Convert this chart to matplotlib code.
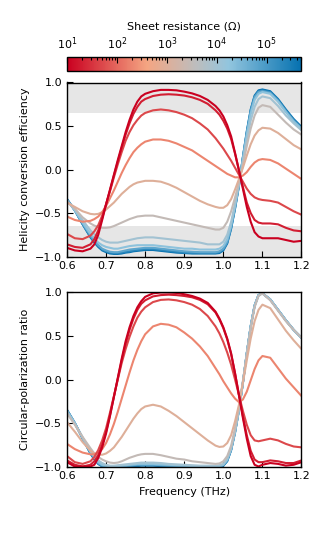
import matplotlib
matplotlib.use("Agg")
import matplotlib.pyplot as plt
from matplotlib.colors import LinearSegmentedColormap, LogNorm
from matplotlib.cm import ScalarMappable

# frequency samples (THz), denser where the curves switch
freq = [0.60, 0.62, 0.64, 0.66,
        0.67, 0.68, 0.69, 0.70, 0.71, 0.72, 0.73, 0.74, 0.75, 0.76, 0.77, 0.78, 0.79, 0.80,
        0.82, 0.84, 0.86, 0.88, 0.90, 0.92, 0.94, 0.96, 0.98,
        0.99, 1.00, 1.01, 1.02, 1.03, 1.04, 1.05, 1.06, 1.07, 1.08, 1.09, 1.10,
        1.12, 1.14, 1.16, 1.18, 1.20]

# sheet resistance of each curve (ohm)
resistance = [10, 20, 50, 200, 1000, 3000, 1e4, 2e4, 6e4, 2e5, 5e5]

# helicity conversion efficiency (top panel)
hce_r10 = [-0.90, -0.93, -0.94, -0.91,
           -0.86, -0.75, -0.58, -0.40, -0.23, -0.06, 0.11, 0.27, 0.43, 0.57, 0.69, 0.78, 0.84, 0.87,
           0.90, 0.915, 0.915, 0.91, 0.895, 0.875, 0.845, 0.80, 0.73,
           0.68, 0.61, 0.51, 0.38, 0.19, -0.01, -0.22, -0.43, -0.60, -0.72, -0.77, -0.79,
           -0.79, -0.79, -0.81, -0.83, -0.82]
hce_r20 = [-0.86, -0.89, -0.90, -0.86,
           -0.80, -0.70, -0.56, -0.40, -0.24, -0.07, 0.09, 0.25, 0.40, 0.53, 0.64, 0.72, 0.78, 0.81,
           0.845, 0.86, 0.865, 0.86, 0.85, 0.83, 0.80, 0.755, 0.68,
           0.63, 0.56, 0.47, 0.35, 0.18, -0.01, -0.20, -0.38, -0.50, -0.58, -0.61, -0.62,
           -0.62, -0.63, -0.67, -0.70, -0.71]
hce_r50 = [-0.74, -0.79, -0.80, -0.76,
           -0.71, -0.64, -0.53, -0.40, -0.25, -0.09, 0.06, 0.20, 0.33, 0.43, 0.51, 0.57, 0.62, 0.65,
           0.68, 0.69, 0.68, 0.66, 0.63, 0.59, 0.53, 0.46, 0.36,
           0.30, 0.24, 0.17, 0.10, 0.02, -0.06, -0.14, -0.22, -0.28, -0.32, -0.34, -0.35,
           -0.36, -0.38, -0.43, -0.48, -0.52]
hce_r200 = [-0.54, -0.58, -0.60, -0.59,
            -0.57, -0.54, -0.49, -0.42, -0.33, -0.24, -0.14, -0.04, 0.05, 0.13, 0.20, 0.25, 0.29, 0.32,
            0.345, 0.345, 0.33, 0.30, 0.26, 0.22, 0.16, 0.10, 0.04,
            0.01, -0.02, -0.05, -0.07, -0.09, -0.09, -0.07, -0.03, 0.03, 0.08, 0.11, 0.12,
            0.11, 0.07, 0.01, -0.05, -0.11]
hce_r1k = [-0.38, -0.43, -0.48, -0.51,
           -0.515, -0.51, -0.49, -0.46, -0.42, -0.38, -0.33, -0.28, -0.24, -0.20, -0.17, -0.15, -0.14, -0.13,
           -0.13, -0.14, -0.17, -0.21, -0.26, -0.31, -0.36, -0.40, -0.43,
           -0.44, -0.44, -0.41, -0.34, -0.23, -0.11, 0.02, 0.16, 0.29, 0.39, 0.45, 0.48,
           0.47, 0.42, 0.35, 0.28, 0.23]
hce_r3k = [-0.37, -0.45, -0.55, -0.62,
           -0.645, -0.66, -0.67, -0.67, -0.665, -0.65, -0.63, -0.61, -0.59, -0.57, -0.555, -0.54, -0.535, -0.53,
           -0.53, -0.55, -0.57, -0.59, -0.61, -0.63, -0.65, -0.67, -0.69,
           -0.69, -0.67, -0.60, -0.48, -0.32, -0.15, 0.05, 0.27, 0.47, 0.62, 0.71, 0.74,
           0.72, 0.63, 0.54, 0.46, 0.40]
hce_r10k = [-0.36, -0.46, -0.58, -0.70,
            -0.745, -0.78, -0.81, -0.83, -0.84, -0.84, -0.84, -0.83, -0.82, -0.81, -0.80, -0.79, -0.785, -0.78,
            -0.78, -0.79, -0.80, -0.81, -0.82, -0.83, -0.84, -0.86, -0.86,
            -0.86, -0.83, -0.75, -0.60, -0.39, -0.16, 0.09, 0.34, 0.56, 0.72, 0.81, 0.84,
            0.82, 0.73, 0.62, 0.53, 0.45]
hce_r20k = [-0.35, -0.47, -0.61, -0.74,
            -0.79, -0.84, -0.87, -0.89, -0.90, -0.91, -0.91, -0.90, -0.89, -0.88, -0.875, -0.87, -0.87, -0.87,
            -0.87, -0.88, -0.89, -0.90, -0.91, -0.91, -0.92, -0.92, -0.92,
            -0.91, -0.88, -0.80, -0.64, -0.42, -0.17, 0.12, 0.40, 0.64, 0.80, 0.87, 0.89,
            0.87, 0.78, 0.66, 0.55, 0.47]
hce_r60k = [-0.35, -0.47, -0.62, -0.76,
            -0.82, -0.87, -0.91, -0.93, -0.945, -0.95, -0.95, -0.94, -0.93, -0.92, -0.915, -0.91, -0.905, -0.90,
            -0.90, -0.91, -0.92, -0.93, -0.94, -0.945, -0.95, -0.95, -0.95,
            -0.94, -0.91, -0.83, -0.66, -0.43, -0.18, 0.13, 0.42, 0.67, 0.83, 0.89, 0.90,
            0.88, 0.79, 0.67, 0.56, 0.47]
hce_r200k = [-0.34, -0.47, -0.63, -0.77,
             -0.83, -0.88, -0.92, -0.94, -0.955, -0.96, -0.96, -0.955, -0.945, -0.94, -0.93, -0.925, -0.92, -0.915,
             -0.915, -0.925, -0.935, -0.945, -0.955, -0.96, -0.96, -0.96, -0.96,
             -0.95, -0.92, -0.84, -0.67, -0.44, -0.18, 0.14, 0.43, 0.68, 0.84, 0.90, 0.91,
             0.89, 0.80, 0.68, 0.57, 0.48]
hce_r500k = [-0.34, -0.47, -0.63, -0.78,
             -0.84, -0.89, -0.93, -0.95, -0.965, -0.97, -0.97, -0.965, -0.955, -0.95, -0.94, -0.935, -0.93, -0.925,
             -0.925, -0.935, -0.945, -0.955, -0.96, -0.965, -0.965, -0.965, -0.965,
             -0.96, -0.93, -0.85, -0.68, -0.45, -0.19, 0.14, 0.44, 0.69, 0.85, 0.91, 0.92,
             0.90, 0.81, 0.69, 0.58, 0.49]

# circular-polarization ratio (bottom panel)
cpr_r10 = [-0.95, -1.0, -1.0, -1.0,
           -0.98, -0.90, -0.78, -0.62, -0.42, -0.20, 0.02, 0.24, 0.44, 0.60, 0.73, 0.83, 0.90, 0.95,
           0.99, 1.0, 1.0, 0.995, 0.98, 0.96, 0.93, 0.88, 0.78,
           0.70, 0.60, 0.47, 0.30, 0.07, -0.18, -0.44, -0.68, -0.88, -0.98, -1.0, -0.98,
           -0.96, -0.97, -0.99, -0.98, -0.95]
cpr_r20 = [-0.93, -0.98, -1.0, -0.98,
           -0.94, -0.87, -0.75, -0.60, -0.41, -0.20, 0.01, 0.22, 0.41, 0.57, 0.70, 0.80, 0.87, 0.91,
           0.955, 0.97, 0.975, 0.97, 0.96, 0.945, 0.915, 0.865, 0.77,
           0.69, 0.59, 0.46, 0.29, 0.07, -0.18, -0.42, -0.64, -0.82, -0.92, -0.95, -0.95,
           -0.93, -0.94, -0.96, -0.96, -0.93]
cpr_r50 = [-0.88, -0.95, -0.97, -0.94,
           -0.89, -0.81, -0.70, -0.56, -0.38, -0.19, 0.00, 0.19, 0.35, 0.49, 0.61, 0.71, 0.78, 0.83,
           0.89, 0.915, 0.92, 0.91, 0.89, 0.86, 0.81, 0.73, 0.61,
           0.53, 0.43, 0.31, 0.17, 0.00, -0.18, -0.36, -0.52, -0.64, -0.70, -0.71, -0.70,
           -0.68, -0.70, -0.74, -0.77, -0.78]
cpr_r200 = [-0.74, -0.80, -0.84, -0.86,
            -0.86, -0.84, -0.80, -0.73, -0.63, -0.51, -0.37, -0.22, -0.07, 0.08, 0.22, 0.34, 0.44, 0.52,
            0.61, 0.64, 0.63, 0.60, 0.54, 0.47, 0.38, 0.27, 0.13,
            0.06, -0.02, -0.09, -0.16, -0.22, -0.26, -0.23, -0.14, -0.01, 0.12, 0.22, 0.27,
            0.25, 0.13, 0.01, -0.09, -0.19]
cpr_r1k = [-0.49, -0.60, -0.72, -0.82,
           -0.85, -0.86, -0.865, -0.85, -0.82, -0.78, -0.72, -0.66, -0.59, -0.52, -0.45, -0.39, -0.34, -0.31,
           -0.29, -0.31, -0.36, -0.42, -0.49, -0.56, -0.63, -0.70, -0.76,
           -0.775, -0.77, -0.73, -0.64, -0.48, -0.29, -0.04, 0.22, 0.47, 0.67, 0.80, 0.86,
           0.82, 0.69, 0.56, 0.45, 0.35]
cpr_r3k = [-0.39, -0.52, -0.66, -0.79,
           -0.85, -0.89, -0.92, -0.94, -0.955, -0.96, -0.955, -0.94, -0.92, -0.90, -0.885, -0.87, -0.86, -0.855,
           -0.855, -0.87, -0.89, -0.91, -0.92, -0.94, -0.95, -0.96, -0.97,
           -0.965, -0.94, -0.88, -0.76, -0.56, -0.32, -0.02, 0.29, 0.59, 0.83, 0.96, 0.99,
           0.91, 0.79, 0.67, 0.57, 0.48]
cpr_r10k = [-0.37, -0.51, -0.67, -0.82,
            -0.88, -0.93, -0.96, -0.98, -0.99, -0.99, -0.985, -0.98, -0.975, -0.97, -0.965, -0.96, -0.955, -0.955,
            -0.955, -0.96, -0.97, -0.975, -0.98, -0.985, -0.99, -0.99, -0.99,
            -0.985, -0.97, -0.91, -0.79, -0.59, -0.34, -0.03, 0.30, 0.61, 0.85, 0.97, 0.99,
            0.92, 0.80, 0.68, 0.57, 0.48]
cpr_r20k = [-0.36, -0.50, -0.67, -0.83,
            -0.89, -0.95, -0.98, -0.99, -1.0, -1.0, -0.995, -0.99, -0.985, -0.98, -0.975, -0.97, -0.97, -0.97,
            -0.97, -0.975, -0.98, -0.985, -0.99, -0.995, -1.0, -1.0, -1.0,
            -0.995, -0.98, -0.92, -0.80, -0.60, -0.35, -0.04, 0.30, 0.61, 0.85, 0.97, 0.99,
            0.92, 0.80, 0.68, 0.57, 0.48]
cpr_r60k = [-0.36, -0.50, -0.67, -0.84,
            -0.90, -0.96, -0.99, -1.0, -1.0, -1.0, -1.0, -1.0, -0.995, -0.99, -0.985, -0.98, -0.98, -0.98,
            -0.98, -0.985, -0.99, -0.995, -1.0, -1.0, -1.0, -1.0, -1.0,
            -1.0, -0.985, -0.93, -0.80, -0.60, -0.35, -0.04, 0.30, 0.61, 0.85, 0.97, 0.99,
            0.92, 0.80, 0.68, 0.57, 0.48]
cpr_r200k = [-0.35, -0.50, -0.68, -0.85,
             -0.91, -0.97, -0.995, -1.0, -1.0, -1.0, -1.0, -1.0, -1.0, -0.995, -0.99, -0.99, -0.985, -0.985,
             -0.985, -0.99, -0.995, -1.0, -1.0, -1.0, -1.0, -1.0, -1.0,
             -1.0, -0.99, -0.93, -0.81, -0.60, -0.35, -0.04, 0.30, 0.61, 0.85, 0.97, 0.99,
             0.92, 0.80, 0.68, 0.57, 0.48]
cpr_r500k = [-0.35, -0.50, -0.68, -0.85,
             -0.92, -0.97, -1.0, -1.0, -1.0, -1.0, -1.0, -1.0, -1.0, -1.0, -0.995, -0.995, -0.99, -0.99,
             -0.99, -0.995, -1.0, -1.0, -1.0, -1.0, -1.0, -1.0, -1.0,
             -1.0, -0.99, -0.94, -0.81, -0.61, -0.35, -0.04, 0.30, 0.61, 0.85, 0.97, 0.99,
             0.92, 0.80, 0.68, 0.57, 0.48]

hce = [hce_r10, hce_r20, hce_r50, hce_r200, hce_r1k, hce_r3k,
       hce_r10k, hce_r20k, hce_r60k, hce_r200k, hce_r500k]
cpr = [cpr_r10, cpr_r20, cpr_r50, cpr_r200, cpr_r1k, cpr_r3k,
       cpr_r10k, cpr_r20k, cpr_r60k, cpr_r200k, cpr_r500k]

# red -> salmon -> grey -> light blue -> blue
cmap = LinearSegmentedColormap.from_list(
    "sheet", [(0.0, "#ca0020"), (0.34, "#f4a582"), (0.55, "#bdbdbd"),
              (0.69, "#92c5de"), (1.0, "#0571b0")])
norm = LogNorm(vmin=10, vmax=5e5)

fig = plt.figure(figsize=(3.35, 5.5), dpi=100)
cax = fig.add_axes([0.2, 0.871, 0.70, 0.0255])
ax1 = fig.add_axes([0.2, 0.5336, 0.70, 0.3164])
ax2 = fig.add_axes([0.2, 0.1518, 0.70, 0.3164])

# colorbar on top
sm = ScalarMappable(norm=norm, cmap=cmap)
cb = fig.colorbar(sm, cax=cax, orientation="horizontal", ticklocation="top")
cb.set_label("Sheet resistance (Ω)", fontsize=8, labelpad=4)
cb.ax.tick_params(which="both", direction="in", labelsize=8, width=0.8)
cb.ax.tick_params(which="major", length=4)
cb.ax.tick_params(which="minor", length=2)
cb.outline.set_linewidth(1.0)

# shaded bands in the top panel
ax1.axhspan(0.65, 1.0, color="0.9", zorder=0, lw=0)
ax1.axhspan(-1.0, -0.65, color="0.9", zorder=0, lw=0)

# high resistance first so the red curves lie on top
for r, y1, y2 in reversed(list(zip(resistance, hce, cpr))):
    c = cmap(norm(r))
    ax1.plot(freq, y1, color=c, lw=1.5, solid_joinstyle="round")
    ax2.plot(freq, y2, color=c, lw=1.5, solid_joinstyle="round")

for ax in (ax1, ax2):
    ax.set_xlim(0.6, 1.2)
    ax.set_ylim(-1, 1)
    ax.set_xticks([0.6, 0.7, 0.8, 0.9, 1.0, 1.1, 1.2])
    ax.set_yticks([-1.0, -0.5, 0.0, 0.5, 1.0])
    ax.tick_params(direction="in", labelsize=8, length=4, width=0.8)
    for s in ax.spines.values():
        s.set_linewidth(1.0)

ax1.set_ylabel("Helicity conversion efficiency", fontsize=8)
ax2.set_ylabel("Circular-polarization ratio", fontsize=8)
ax2.set_xlabel("Frequency (THz)", fontsize=8)

fig.savefig("out.png", dpi=100)
